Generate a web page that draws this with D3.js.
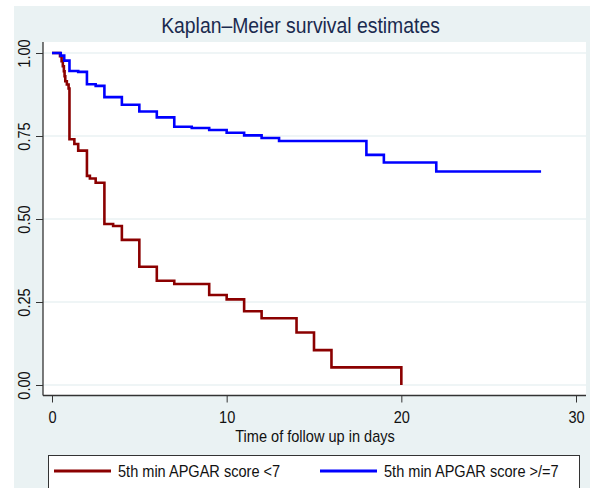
<!DOCTYPE html>
<html>
<head>
<meta charset="utf-8">
<script src="https://cdn.jsdelivr.net/npm/d3@7"></script>
<style>
  html, body { margin: 0; padding: 0; background: #ffffff; }
  svg { display: block; font-family: "Liberation Sans", Arial, sans-serif; }
</style>
</head>
<body>
<svg id="chart" width="595" height="488"></svg>
<script>
// Kaplan–Meier survival estimates by 5th-minute APGAR score
const lowTime = [0, 0.46, 0.55, 0.62, 0.68, 0.72, 0.76, 0.85, 0.95, 1, 1.28, 1.5, 2, 2.17, 2.5, 3, 3.5, 4, 5, 6, 7, 9, 10, 11, 12, 14, 15, 16, 20];
const lowSurv = [1, 0.99, 0.975, 0.96, 0.945, 0.93, 0.915, 0.905, 0.893, 0.740, 0.726, 0.706, 0.630, 0.622, 0.609, 0.485, 0.479, 0.437, 0.356, 0.314, 0.304, 0.271, 0.258, 0.222, 0.201, 0.158, 0.105, 0.053, 0];

const highTime = [0, 0.5, 0.7, 1, 1.5, 2, 2.5, 3, 4, 5, 6, 7, 8, 9, 10, 11, 12, 13, 18, 19, 22, 28];
const highSurv = [1, 0.992, 0.977, 0.946, 0.943, 0.906, 0.901, 0.867, 0.844, 0.824, 0.806, 0.778, 0.774, 0.768, 0.760, 0.752, 0.744, 0.735, 0.693, 0.670, 0.643, 0.643];

const xTicks = [0, 10, 20, 30];
const yTicks = [0, 0.25, 0.5, 0.75, 1];
const seriesNames = ["5th min APGAR score <7", "5th min APGAR score >/=7"];
const seriesColors = ["#8b0000", "#0000ff"];

const svg = d3.select("#chart");

// graph region and plot region
const outer = { x0: 14, y0: 6, x1: 590, y1: 488 };
const plot = { x0: 43, y0: 42, x1: 586, y1: 395.5 };

// narrow text: glyphs squeezed horizontally along the text direction
const SQ = 0.91;
function label(parent, txt, px, py, size, opts = {}) {
  const rot = opts.rotate ? ` rotate(${opts.rotate})` : "";
  return parent.append("text")
    .attr("transform", `translate(${px},${py})${rot} scale(${opts.sq || SQ},1)`)
    .attr("text-anchor", opts.anchor || "start")
    .attr("font-size", size)
    .attr("fill", opts.fill || "#111")
    .text(txt);
}

svg.append("rect").attr("x", outer.x0).attr("y", outer.y0)
  .attr("width", outer.x1 - outer.x0).attr("height", outer.y1 - outer.y0)
  .attr("fill", "#eaf2f3");
svg.append("rect").attr("x", plot.x0).attr("y", plot.y0)
  .attr("width", plot.x1 - plot.x0).attr("height", plot.y1 - plot.y0)
  .attr("fill", "#ffffff");

const x = d3.scaleLinear().domain([0, 30]).range([52, 576]);
const y = d3.scaleLinear().domain([0, 1]).range([385, 53]);

// grid lines
svg.append("g").selectAll("line").data(yTicks).join("line")
  .attr("x1", plot.x0).attr("x2", plot.x1)
  .attr("y1", d => y(d)).attr("y2", d => y(d))
  .attr("stroke", "#eaf2f3").attr("stroke-width", 1.5);

// title
label(svg, "Kaplan–Meier survival estimates", 300.5, 32.5, 22, { anchor: "middle", fill: "#1a2a4f", sq: 0.88 });

// y axis
const fmtY = d3.format(".2f");
const yAxis = d3.axisLeft(y).tickValues(yTicks).tickFormat("").tickSize(7).tickSizeOuter(0);
const gy = svg.append("g").attr("transform", `translate(${plot.x0},0)`).call(yAxis);
gy.select(".domain").remove();
gy.selectAll(".tick text").remove();
gy.selectAll(".tick line").attr("stroke", "#333").attr("stroke-width", 1);
gy.selectAll(".tick").each(function (d) {
  label(d3.select(this), fmtY(d), -13, 0, 16, { anchor: "middle", rotate: -90 });
});
svg.append("line").attr("x1", plot.x0).attr("x2", plot.x0)
  .attr("y1", plot.y0).attr("y2", plot.y1)
  .attr("stroke", "#333").attr("stroke-width", 1.3);

// x axis
const xAxis = d3.axisBottom(x).tickValues(xTicks).tickFormat("").tickSize(7).tickSizeOuter(0);
const gx = svg.append("g").attr("transform", `translate(0,${plot.y1})`).call(xAxis);
gx.select(".domain").remove();
gx.selectAll(".tick text").remove();
gx.selectAll(".tick line").attr("stroke", "#333").attr("stroke-width", 1);
gx.selectAll(".tick").each(function (d) {
  label(d3.select(this), String(d), 0, 27, 16, { anchor: "middle" });
});
svg.append("line").attr("x1", plot.x0).attr("x2", plot.x1)
  .attr("y1", plot.y1).attr("y2", plot.y1)
  .attr("stroke", "#333").attr("stroke-width", 1.3);

label(svg, "Time of follow up in days", 315, 442, 16, { anchor: "middle" });

// survival curves
const line = d3.line().x(d => x(d[0])).y(d => y(d[1])).curve(d3.curveStepAfter);
const series = [d3.zip(lowTime, lowSurv), d3.zip(highTime, highSurv)];
svg.append("g").selectAll("path").data(series).join("path")
  .attr("d", line)
  .attr("fill", "none")
  .attr("stroke", (d, i) => seriesColors[i])
  .attr("stroke-width", 2.6)
  .attr("stroke-linejoin", "miter");

// legend
const lg = svg.append("g");
lg.append("rect").attr("x", 48.5).attr("y", 455.5).attr("width", 531).attr("height", 40)
  .attr("fill", "#ffffff").attr("stroke", "#333").attr("stroke-width", 1);
const legendX = [54, 320];
seriesNames.forEach((name, i) => {
  lg.append("line").attr("x1", legendX[i]).attr("x2", legendX[i] + 57)
    .attr("y1", 471).attr("y2", 471)
    .attr("stroke", seriesColors[i]).attr("stroke-width", 3);
  label(lg, name, legendX[i] + 64, 477, 16);
});
</script>
</body>
</html>
